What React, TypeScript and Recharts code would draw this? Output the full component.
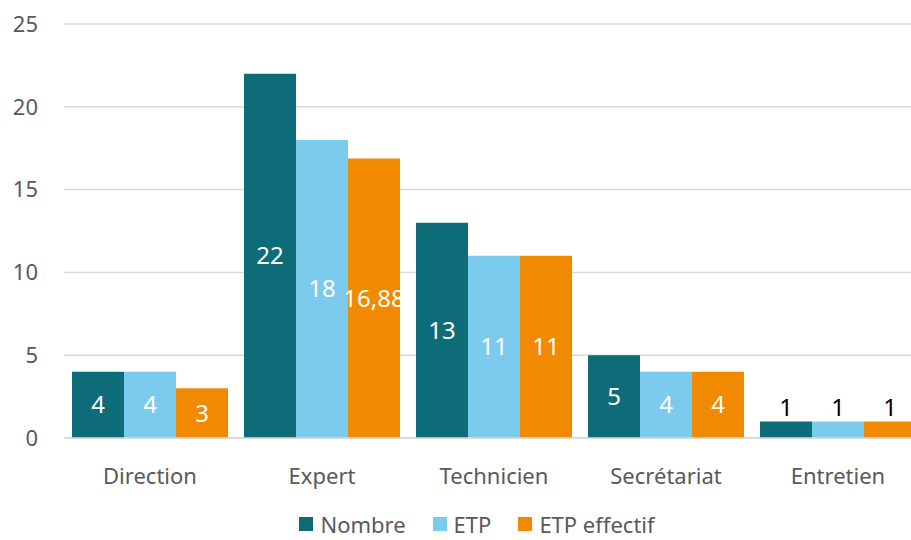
import React from 'react';
import {
  BarChart,
  Bar,
  XAxis,
  YAxis,
  CartesianGrid,
  Legend,
  LabelList,
} from 'recharts';

const categories = ['Direction', 'Expert', 'Technicien', 'Secrétariat', 'Entretien'];
const nombre = [4, 22, 13, 5, 1];
const etp = [4, 18, 11, 4, 1];
const etpEffectif = [3, 16.88, 11, 4, 1];
const yTicks = [0, 5, 10, 15, 20, 25];

const series = [
  { key: 'nombre', name: 'Nombre', color: '#0E6B78' },
  { key: 'etp', name: 'ETP', color: '#7BCBEE' },
  { key: 'etpEffectif', name: 'ETP effectif', color: '#F18A00' },
];

const data = categories.map((name, i) => ({
  name,
  nombre: nombre[i],
  etp: etp[i],
  etpEffectif: etpEffectif[i],
}));

const FONT = '"Noto Sans", "Open Sans", sans-serif';
const formatValue = (v: number) => String(v).replace('.', ',');

// white label in the middle of the bar, or black above it when the bar is too short
function BarValueLabel(props: any) {
  const { x, y, width, height, value } = props;
  const cx = x + width / 2;
  if (height < 30) {
    return (
      <text x={cx} y={y - 5} textAnchor="middle" fill="#000" fontSize={24} fontFamily={FONT}>
        {formatValue(value)}
      </text>
    );
  }
  return (
    <text
      x={cx}
      y={y + height / 2}
      dy="0.35em"
      textAnchor="middle"
      fill="#fff"
      fontSize={24}
      fontFamily={FONT}
    >
      {formatValue(value)}
    </text>
  );
}

function LegendContent() {
  return (
    <div
      style={{
        display: 'flex',
        justifyContent: 'center',
        alignItems: 'center',
        gap: 27,
        height: 24,
        paddingTop: 18,
        lineHeight: '24px',
        fontFamily: FONT,
        fontSize: 22,
        color: '#595959',
      }}
    >
      {series.map((s) => (
        <div key={s.key} style={{ display: 'flex', alignItems: 'center' }}>
          <span
            style={{ width: 14, height: 14, background: s.color, display: 'inline-block', marginRight: 7 }}
          />
          <span>{s.name}</span>
        </div>
      ))}
    </div>
  );
}

export default function App() {
  return (
    <div
      style={{
        position: 'absolute',
        left: 0,
        top: 0,
        width: 911,
        height: 540,
        overflow: 'hidden',
        background: '#fff',
      }}
    >
      <BarChart
        width={924}
        height={540}
        data={data}
        margin={{ top: 24, right: 0, bottom: 0, left: 0 }}
        barCategoryGap={8}
        barGap={0}
      >
        <CartesianGrid vertical={false} stroke="#D9D9D9" strokeWidth={1.5} />
        <XAxis
          dataKey="name"
          height={56}
          axisLine={{ stroke: '#D9D9D9', strokeWidth: 1.5 }}
          tickLine={false}
          tickSize={0}
          tickMargin={30}
          tick={{ fill: '#595959', fontSize: 22, fontFamily: FONT }}
        />
        <YAxis
          width={64}
          domain={[0, 25]}
          ticks={yTicks}
          axisLine={false}
          tickLine={false}
          tickSize={0}
          tickMargin={26}
          tick={{ fill: '#595959', fontSize: 22, fontFamily: FONT }}
        />
        <Legend
          verticalAlign="bottom"
          height={46}
          content={<LegendContent />}
          wrapperStyle={{ left: 15 }}
        />
        {series.map((s) => (
          <Bar key={s.key} dataKey={s.key} name={s.name} fill={s.color} isAnimationActive={false}>
            <LabelList dataKey={s.key} content={<BarValueLabel />} />
          </Bar>
        ))}
      </BarChart>
    </div>
  );
}
